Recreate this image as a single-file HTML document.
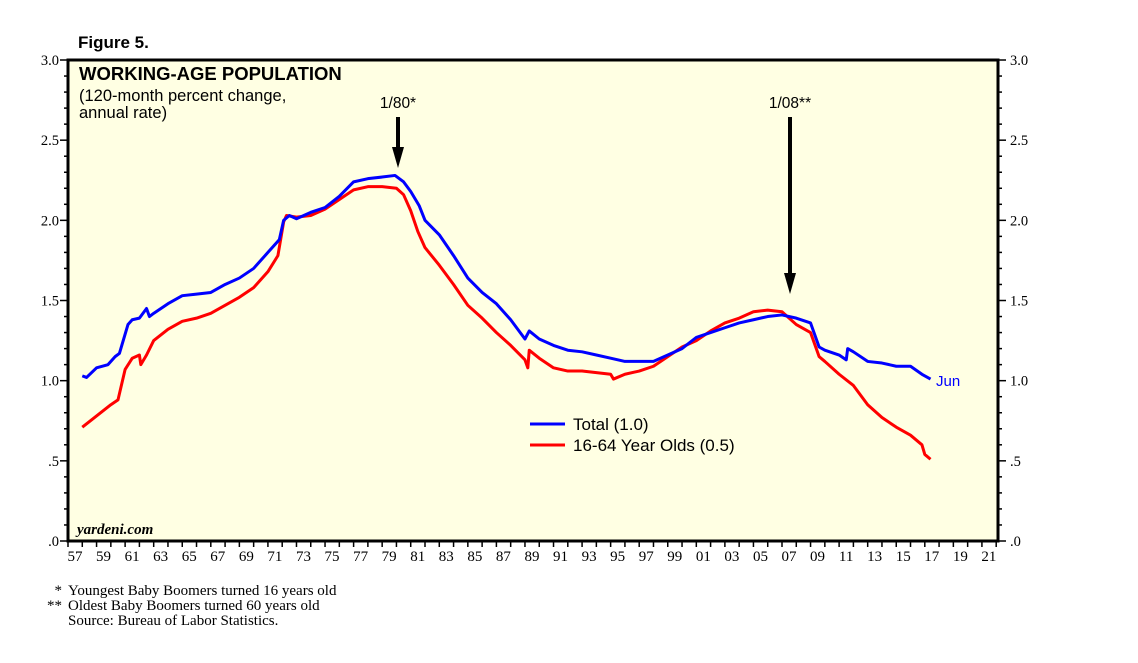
<!DOCTYPE html>
<html><head><meta charset="utf-8"><style>
body{margin:0;background:#fff;width:1138px;height:663px;overflow:hidden}
svg{display:block}
.s{font-family:"Liberation Sans",sans-serif}
.t{font-family:"Liberation Serif",serif}
</style></head><body>
<svg id="c" width="1138" height="663">
<text x="78" y="48" class="s" font-size="17" font-weight="bold">Figure 5.</text>
<rect x="68" y="60" width="930" height="481" fill="#FFFFE3"/>
<g id="ax"></g>
<g id="lines"></g>
<text x="79" y="80" class="s" font-size="18.5" font-weight="bold">WORKING-AGE POPULATION</text>
<text x="79" y="101" class="s" font-size="16.5">(120-month percent change,</text>
<text x="79" y="118" class="s" font-size="16.5">annual rate)</text>
<text x="398" y="108" class="s" font-size="15.5" text-anchor="middle">1/80*</text>
<text x="790" y="108" class="s" font-size="15.5" text-anchor="middle">1/08**</text>
<line x1="398" y1="117" x2="398" y2="150" stroke="#000" stroke-width="4"/>
<polygon points="392,147 404,147 398,168" fill="#000"/>
<line x1="790" y1="117" x2="790" y2="276" stroke="#000" stroke-width="4"/>
<polygon points="784,273 796,273 790,294" fill="#000"/>
<line x1="530" y1="424" x2="565" y2="424" stroke="#0000ff" stroke-width="3"/>
<text x="573" y="430" class="s" font-size="17">Total (1.0)</text>
<line x1="530" y1="445" x2="565" y2="445" stroke="#ff0000" stroke-width="3"/>
<text x="573" y="451" class="s" font-size="17">16-64 Year Olds (0.5)</text>
<text x="936" y="386" class="s" font-size="15" fill="#0000ff">Jun</text>
<text x="77" y="534" class="t" font-size="15" font-style="italic" font-weight="bold">yardeni.com</text>
<text x="62" y="595" class="t" font-size="15" text-anchor="end">*</text>
<text x="68" y="595" class="t" font-size="15">Youngest Baby Boomers turned 16 years old</text>
<text x="62" y="610" class="t" font-size="15" text-anchor="end">**</text>
<text x="68" y="610" class="t" font-size="15">Oldest Baby Boomers turned 60 years old</text>
<text x="68" y="625" class="t" font-size="15">Source: Bureau of Labor Statistics.</text>
</svg>
<script>
const totalYears=[1958,1958.3,1959,1959.8,1960.3,1960.6,1961.2,1961.5,1962,1962.5,1962.7,1963,1964,1965,1966,1967,1968,1969,1970,1971,1971.8,1972.1,1972.5,1973,1974,1975,1976,1977,1978,1979,1979.9,1980.5,1981,1981.6,1982,1983,1984,1985,1986,1987,1988,1989,1989.3,1990,1991,1992,1993,1994,1995,1996,1997,1998,1999,2000,2001,2002,2003,2004,2005,2006,2007,2008,2009,2009.6,2010,2011,2011.5,2011.6,2012,2013,2014,2015,2016,2016.8,2017.4];
const totalValues=[1.03,1.02,1.08,1.10,1.15,1.17,1.35,1.38,1.39,1.45,1.40,1.42,1.48,1.53,1.54,1.55,1.60,1.64,1.70,1.80,1.88,2.00,2.03,2.01,2.05,2.08,2.15,2.24,2.26,2.27,2.28,2.24,2.18,2.09,2.00,1.91,1.78,1.64,1.55,1.48,1.38,1.26,1.31,1.26,1.22,1.19,1.18,1.16,1.14,1.12,1.12,1.12,1.16,1.20,1.27,1.30,1.33,1.36,1.38,1.40,1.41,1.39,1.36,1.21,1.19,1.16,1.13,1.20,1.18,1.12,1.11,1.09,1.09,1.04,1.01];
const workYears=[1958,1959,1960,1960.5,1961,1961.5,1962,1962.1,1962.5,1963,1964,1965,1966,1967,1968,1969,1970,1971,1971.7,1972.1,1972.3,1973,1974,1975,1976,1977,1978,1979,1980,1980.5,1981,1981.5,1982,1983,1984,1985,1986,1987,1988,1989,1989.2,1989.3,1990,1991,1992,1993,1994,1995,1995.2,1996,1997,1998,1999,2000,2001,2002,2003,2004,2005,2006,2007,2008,2009,2009.6,2010,2011,2012,2013,2014,2015,2016,2016.8,2017,2017.4];
const workValues=[0.71,0.78,0.85,0.88,1.07,1.14,1.16,1.10,1.16,1.25,1.32,1.37,1.39,1.42,1.47,1.52,1.58,1.68,1.78,1.99,2.03,2.02,2.03,2.07,2.13,2.19,2.21,2.21,2.20,2.16,2.06,1.93,1.83,1.72,1.60,1.47,1.39,1.30,1.22,1.13,1.08,1.19,1.14,1.08,1.06,1.06,1.05,1.04,1.01,1.04,1.06,1.09,1.15,1.21,1.25,1.31,1.36,1.39,1.43,1.44,1.43,1.35,1.30,1.15,1.12,1.04,0.97,0.85,0.77,0.71,0.66,0.60,0.54,0.51];
const yTickLabels=["3.0","2.5","2.0","1.5","1.0",".5",".0"];
const yTickValues=[3,2.5,2,1.5,1,0.5,0];
const NS="http://www.w3.org/2000/svg";
const X=y=>68+(y-1957)*14.28;
const Y=v=>541-v*160.33;
const ax=document.getElementById('ax'),lg=document.getElementById('lines');
function mk(t,a,p){const e=document.createElementNS(NS,t);for(const k in a)e.setAttribute(k,a[k]);(p||ax).appendChild(e);return e;}
for(let i=0;i<=30;i++){const yy=Y(i/10),maj=i%5===0;
 const l1=mk('line',{x1:maj?60:64,x2:68,y1:yy,y2:yy,stroke:'#000','stroke-width':1.5});
 
 
 const l2=mk('line',{x1:998,x2:maj?1006:1002,y1:yy,y2:yy,stroke:'#000','stroke-width':1.5});
 
 }
yTickLabels.forEach((s,i)=>{const yy=Y(yTickValues[i])+5;
 const a=mk('text',{x:59,y:yy,'text-anchor':'end','font-size':14.5,'font-family':'Liberation Serif,serif'});a.textContent=s;
 
 
 const b=mk('text',{x:1010,y:yy,'font-size':14.5,'font-family':'Liberation Serif,serif'});b.textContent=s;
 
 });
for(let yr=1957;yr<=2022;yr++){const xx=X(yr);
 const t=mk('line',{x1:xx,x2:xx,y1:541,y2:547,stroke:'#000','stroke-width':1.5});
 
 
 if(yr%2===1&&yr<2022){const tx=mk('text',{x:xx+7,y:561,'text-anchor':'middle','font-size':15,'font-family':'Liberation Serif,serif'});tx.textContent=String(yr%100).padStart(2,'0');
 
 }}
const fr=mk('rect',{x:68,y:60,width:930,height:481,fill:'none',stroke:'#000','stroke-width':3});


function line(xs,vs,c,name){const p=mk('polyline',{points:xs.map((x,i)=>X(x)+','+Y(vs[i])).join(' '),fill:'none',stroke:c,'stroke-width':3,'stroke-linejoin':'round'},lg);
 
 }
line(workYears,workValues,'#ff0000','line-16-64');
line(totalYears,totalValues,'#0000ff','line-total');
</script>
</body></html>
